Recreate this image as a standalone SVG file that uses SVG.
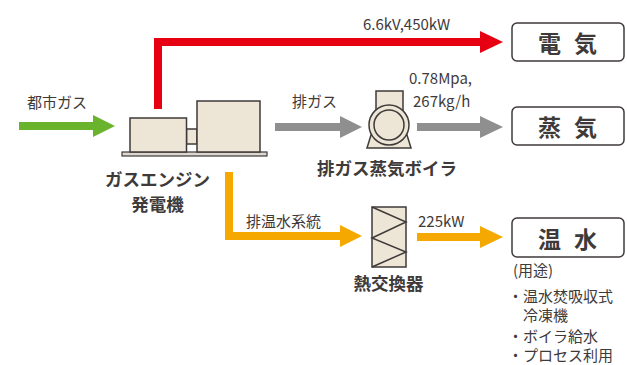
<svg xmlns="http://www.w3.org/2000/svg" width="627" height="365" viewBox="0 0 627 365">
  <style>
    text { font-family: "Noto Sans CJK JP", "Noto Sans", sans-serif; fill: #3e3a39; }
    .lbl { font-size: 15px; }
    .name { font-size: 17.5px; font-weight: bold; }
    .out { font-size: 23px; font-weight: bold; }
    .eq { fill: #ede6d6; stroke: #3e3a39; stroke-width: 1.5; }
    .box { fill: #ffffff; stroke: #3e3a39; stroke-width: 1.5; }
    .line { fill: none; stroke-width: 8; stroke-linejoin: miter; }
  </style>
  <rect width="627" height="365" fill="#ffffff"/>

  <!-- flow arrows -->
  <g id="connectors">
    <path class="line" d="M19,126 H95" stroke="#6ab42d"/>
    <polygon points="93,115 115,126 93,137" fill="#6ab42d"/>

    <path class="line" d="M158,109 V42 H482" stroke="#e60012"/>
    <polygon points="480,31 503,42 480,53" fill="#e60012"/>

    <path class="line" d="M275,127 H342" stroke="#8f8f8f"/>
    <polygon points="340,116 362,127 340,138" fill="#8f8f8f"/>
    <path class="line" d="M417,127 H482" stroke="#8f8f8f"/>
    <polygon points="480,116 503,127 480,138" fill="#8f8f8f"/>

    <path class="line" d="M229,172 V236 H342" stroke="#f5a800"/>
    <polygon points="340,225 362,236 340,247" fill="#f5a800"/>
    <path class="line" d="M417,237 H482" stroke="#f5a800"/>
    <polygon points="480,226 503,237 480,248" fill="#f5a800"/>
  </g>

  <!-- flow labels -->
  <g id="flow-labels">
    <text class="lbl" x="27" y="108">都市ガス</text>
    <text class="lbl" x="363" y="30">6.6kV,450kW</text>
    <text class="lbl" x="292" y="107">排ガス</text>
    <text class="lbl" x="409" y="84">0.78Mpa,</text>
    <text class="lbl" x="413" y="107">267kg/h</text>
    <text class="lbl" x="246" y="227">排温水系統</text>
    <text class="lbl" x="418" y="227">225kW</text>
  </g>

  <!-- gas engine generator -->
  <g id="gas-engine">
    <rect x="122" y="152" width="145" height="4" fill="#dcd8d0" stroke="#3e3a39" stroke-width="1.2"/>
    <rect class="eq" x="186.5" y="129" width="10.5" height="15"/>
    <rect class="eq" x="130" y="118" width="56.5" height="34"/>
    <rect class="eq" x="197" y="101" width="63" height="51"/>
    <text class="name" x="157.5" y="186" text-anchor="middle">ガスエンジン</text>
    <text class="name" x="157.5" y="211" text-anchor="middle">発電機</text>
  </g>

  <!-- exhaust gas steam boiler -->
  <g id="boiler">
    <polygon class="eq" points="371,135 407,135 411,148 367,148"/>
    <rect class="eq" x="376" y="91" width="27" height="22"/>
    <circle class="eq" cx="389" cy="125" r="20"/>
    <circle class="eq" cx="389" cy="125" r="15"/>
    <text class="name" x="387" y="175" text-anchor="middle">排ガス蒸気ボイラ</text>
  </g>

  <!-- heat exchanger -->
  <g id="heat-exchanger">
    <rect class="eq" x="372" y="207" width="34" height="60"/>
    <polyline points="372,207 406,222 372,238 406,252 372,267" fill="none" stroke="#3e3a39" stroke-width="1.5"/>
    <text class="name" x="388.5" y="290" text-anchor="middle">熱交換器</text>
  </g>

  <!-- outputs -->
  <g id="electricity">
    <rect class="box" x="512" y="23" width="112" height="38" rx="5"/>
    <text class="out" x="549.5" y="52" text-anchor="middle">電</text>
    <text class="out" x="585.5" y="52" text-anchor="middle">気</text>
  </g>
  <g id="steam">
    <rect class="box" x="512" y="107" width="112" height="38" rx="5"/>
    <text class="out" x="549.5" y="136" text-anchor="middle">蒸</text>
    <text class="out" x="585.5" y="136" text-anchor="middle">気</text>
  </g>
  <g id="hot-water">
    <rect class="box" x="512" y="218" width="112" height="39" rx="5"/>
    <text class="out" x="549.5" y="248" text-anchor="middle">温</text>
    <text class="out" x="585.5" y="248" text-anchor="middle">水</text>
  </g>

  <!-- hot water uses -->
  <g id="uses">
    <text class="lbl" x="513" y="276">(用途)</text>
    <text class="lbl" x="508" y="302">・温水焚吸収式</text>
    <text class="lbl" x="523" y="321">冷凍機</text>
    <text class="lbl" x="508" y="342">・ボイラ給水</text>
    <text class="lbl" x="508" y="361">・プロセス利用</text>
  </g>
</svg>
